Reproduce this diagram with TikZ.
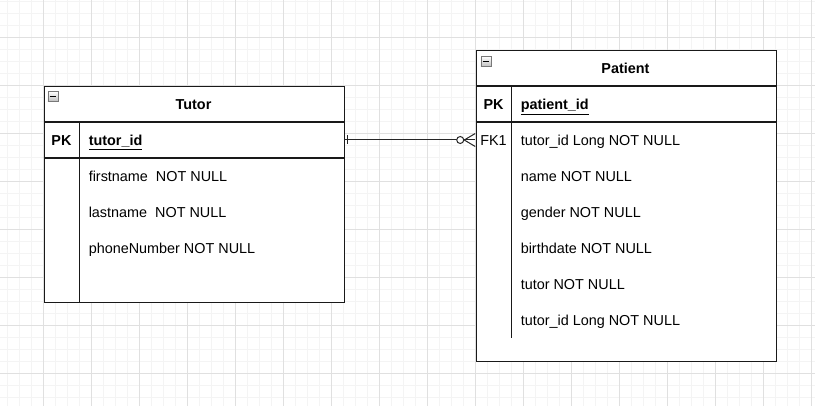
\documentclass[tikz,border=0pt]{standalone}
\usepackage{fontspec}
\setmainfont{Liberation Sans}
\usetikzlibrary{calc}
\definecolor{gridminor}{RGB}{244,244,244}
\definecolor{gridmajor}{RGB}{224,224,224}
\definecolor{iconedge}{RGB}{120,120,120}
\begin{document}
\begin{tikzpicture}[x=0.75pt,y=-0.75pt,
  tblbox/.style={draw=black!90, line width=0.9pt, inner sep=0pt, anchor=north west},
  sepline/.style={draw=black!90, line width=0.9pt},
  rowbox/.style={inner sep=0pt, minimum width=225pt, minimum height=27pt},
  lbl/.style={inner sep=0pt, anchor=base west, font=\fontsize{10.8pt}{13pt}\selectfont},
  keylbl/.style={inner sep=0pt, anchor=base, font=\fontsize{10.8pt}{13pt}\selectfont},
  titlelbl/.style={inner sep=0pt, anchor=base, font=\fontsize{10.8pt}{13pt}\selectfont\bfseries},
  conn/.style={draw=black!85, line width=0.75pt},
  icon/.style={draw=iconedge, line width=0.6pt, top color=white, bottom color=black!25, inner sep=0pt, minimum size=7.5pt, anchor=north west}
]
\useasboundingbox (0,0) rectangle (815,406);
\fill[white] (0,0) rectangle (815,406);
% grid
\foreach \i in {0,...,67} { \draw[gridminor, line width=0.75pt] (7.3+12*\i,0) -- (7.3+12*\i,406); }
\foreach \j in {0,...,33} { \draw[gridminor, line width=0.75pt] (0,1.3+12*\j) -- (815,1.3+12*\j); }
\foreach \i in {0,...,16} { \draw[gridmajor, line width=0.75pt] (43.3+48*\i,0) -- (43.3+48*\i,406); }
\foreach \j in {0,...,8} { \draw[gridmajor, line width=0.75pt] (0,37.3+48*\j) -- (815,37.3+48*\j); }

% ---------- Tutor ----------
\node[tblbox, fill=white, minimum width=225pt, minimum height=162pt] (tutor) at (43.5,86) {};
\draw[sepline] (43.5,122) -- (343.5,122);
\draw[sepline] (43.5,158) -- (343.5,158);
\draw[sepline] (79.5,122) -- (79.5,302);
\node[icon] (tutoricon) at (47.5,91) {};
\draw[black, line width=0.7pt] ($(tutoricon.west)+(2,0)$) -- ($(tutoricon.east)+(-2,0)$);
\node[titlelbl] (tutortitle) at (193.5,110) {Tutor};
\node[rowbox] (tutorpk) at (193.5,140) {};
\node[titlelbl] (tutorpkkey) at (61.5,145.5) {PK};
\node[lbl, font=\fontsize{10.8pt}{13pt}\selectfont\bfseries] (tutorid) at (88.5,145.5) {\underline{tutor\_id}};
\node[lbl] (tutorf1) at (88.5,181.5) {firstname\ \ NOT NULL};
\node[lbl] (tutorf2) at (88.5,217.5) {lastname\ \ NOT NULL};
\node[lbl] (tutorf3) at (88.5,253.5) {phoneNumber NOT NULL};

% ---------- Patient ----------
\node[tblbox, fill=white, minimum width=225pt, minimum height=233.25pt] (patient) at (475.5,50) {};
\draw[sepline] (475.5,86) -- (775.5,86);
\draw[sepline] (475.5,122) -- (775.5,122);
\draw[sepline] (511.5,86) -- (511.5,338.5);
\node[icon] (patienticon) at (480.5,56) {};
\draw[black, line width=0.7pt] ($(patienticon.west)+(2,0)$) -- ($(patienticon.east)+(-2,0)$);
\node[titlelbl] (patienttitle) at (625.5,74) {Patient};
\node[titlelbl] (patientpkkey) at (493.5,109.5) {PK};
\node[lbl, font=\fontsize{10.8pt}{13pt}\selectfont\bfseries] (patientid) at (520.5,109.5) {\underline{patient\_id}};
\node[rowbox] (patientfk) at (625.5,140) {};
\node[keylbl] (patientfkkey) at (493.5,145.5) {FK1};
\node[lbl] (patientf1) at (520.5,145.5) {tutor\_id Long NOT NULL};
\node[lbl] (patientf2) at (520.5,181.5) {name NOT NULL};
\node[lbl] (patientf3) at (520.5,217.5) {gender NOT NULL};
\node[lbl] (patientf4) at (520.5,253.5) {birthdate NOT NULL};
\node[lbl] (patientf5) at (520.5,289.5) {tutor NOT NULL};
\node[lbl] (patientf6) at (520.5,325.5) {tutor\_id Long NOT NULL};

% ---------- Relationship ----------
\draw[conn] (tutorpk.east) -- (patientfk.west);
\coordinate (onebar) at ($(tutorpk.east)+(4,0)$);
\draw[conn] ($(onebar)+(0,-4.5)$) -- ($(onebar)+(0,4.5)$);
\coordinate (crowtip) at ($(patientfk.west)+(-11,0)$);
\draw[conn] ($(patientfk.west)+(0,-6.5)$) -- (crowtip) -- ($(patientfk.west)+(0,6.5)$);
\draw[conn, fill=white] ($(patientfk.west)+(-15,0)$) circle[radius=3.5];
\end{tikzpicture}
\end{document}
